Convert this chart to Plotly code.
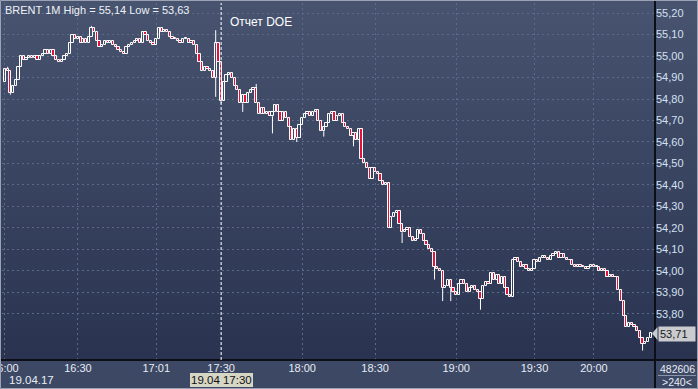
import plotly.graph_objects as go

# ---------------- data ----------------
first_open = 54.88
closes = [
    54.94, 54.93, 54.83, 54.86, 54.89, 54.95, 55.00, 54.98, 54.99, 55.00,
    54.99, 55.00, 54.98, 55.00, 55.01, 55.03, 55.01, 55.03, 55.00, 54.98,
    54.97, 54.98, 55.00, 55.01, 55.06, 55.10, 55.08, 55.09, 55.06, 55.08,
    55.06, 55.09, 55.13, 55.11, 55.07, 55.04, 55.05, 55.07, 55.06, 55.07,
    55.05, 55.04, 55.03, 55.02, 55.01, 55.04, 55.05, 55.06, 55.07, 55.08,
    55.06, 55.11, 55.10, 55.07, 55.06, 55.05, 55.08, 55.13, 55.11, 55.12,
    55.11, 55.09, 55.08, 55.08, 55.07, 55.06, 55.08, 55.08, 55.06, 55.07,
    55.05, 55.01, 54.97, 54.93, 54.95, 54.94, 54.93, 54.90, 55.06, 54.97,
    54.79, 54.88, 54.91, 54.92, 54.90, 54.86, 54.84, 54.78, 54.82, 54.78,
    54.83, 54.84, 54.85, 54.78, 54.73, 54.76, 54.73, 54.74, 54.72, 54.74,
    54.77, 54.74, 54.70, 54.74, 54.71, 54.67, 54.61, 54.66, 54.62, 54.68,
    54.71, 54.73, 54.74, 54.72, 54.74, 54.75, 54.70, 54.65, 54.67, 54.69,
    54.73, 54.74, 54.70, 54.72, 54.73, 54.69, 54.67, 54.66, 54.63, 54.64,
    54.61, 54.66, 54.52, 54.50, 54.48, 54.43, 54.48, 54.46, 54.45, 54.42,
    54.40, 54.41, 54.20, 54.25, 54.27, 54.28, 54.22, 54.18, 54.19, 54.20,
    54.16, 54.14, 54.15, 54.19, 54.17, 54.14, 54.12, 54.10, 54.09, 54.02,
    54.01, 54.00, 53.92, 53.93, 53.96, 53.92, 53.90, 53.89, 53.94, 53.96,
    53.94, 53.90, 53.92, 53.93, 53.91, 53.90, 53.87, 53.93, 53.95, 53.94,
    53.99, 53.96, 53.98, 53.94, 53.97, 53.92, 53.89, 53.88, 54.05, 54.06,
    54.04, 54.02, 54.03, 54.01, 54.00, 54.01, 54.05, 54.04, 54.06, 54.07,
    54.06, 54.05, 54.07, 54.08, 54.09, 54.06, 54.08, 54.06, 54.05, 54.05,
    54.03, 54.02, 54.03, 54.02, 54.02, 54.01, 54.02, 54.03, 54.02, 54.02,
    54.00, 54.01, 54.00, 53.97, 53.98, 53.97, 53.97, 53.91, 53.86, 53.79,
    53.74, 53.76, 53.75, 53.74, 53.72, 53.69, 53.66, 53.67, 53.69, 53.71,
]
# extra wick extremes (bar index -> price)
wick_high = {1: 54.95, 32: 55.14, 57: 55.135, 78: 55.12, 93: 54.87}
wick_low = {2: 54.82, 78: 54.81, 80: 54.78, 88: 54.74, 99: 54.64, 108: 54.60,
            118: 54.625, 129: 54.58, 147: 54.13, 159: 53.96, 162: 53.86,
            165: 53.86, 176: 53.82, 236: 53.63}

tick_idx = [0, 27, 56, 80, 110, 137, 167, 196, 218]
tick_lbl = ["16:00", "16:30", "17:01", "17:30", "18:00", "18:30", "19:00", "19:30", "20:00"]
y_ticks = [53.8, 53.9, 54.0, 54.1, 54.2, 54.3, 54.4, 54.5, 54.6, 54.7, 54.8, 54.9, 55.0, 55.1, 55.2]
y_tick_lbl = ["53,80", "53,90", "54,00", "54,10", "54,20", "54,30", "54,40", "54,50",
              "54,60", "54,70", "54,80", "54,90", "55,00", "55,10", "55,20"]
last_price = "53,71"
title_text = "BRENT 1M High = 55,14 Low = 53,63"
event_text = "Отчет DOE"
event_idx = 80
date_text = "19.04.17"
cursor_text = "19.04 17:30"
volume_text = "482606"
bars_text = ">240<"

# ---------------- build OHLC ----------------
n = len(closes)
idx = list(range(n))
opens = [first_open] + closes[:-1]
highs = [max(o, c) for o, c in zip(opens, closes)]
lows = [min(o, c) for o, c in zip(opens, closes)]
for k, v in wick_high.items():
    highs[k] = max(highs[k], v)
for k, v in wick_low.items():
    lows[k] = min(lows[k], v)

body_lo = [min(o, c) for o, c in zip(opens, closes)]
body_hi = [max(o, c) for o, c in zip(opens, closes)]
body_h = [max(h - l, 0.0015) for h, l in zip(body_hi, body_lo)]
RED = "#e5103c"
body_fill = [RED if c < o else "rgba(0,0,0,0)" for o, c in zip(opens, closes)]

wx, wy = [], []
for i in idx:
    if highs[i] > body_hi[i] + 1e-9:
        wx += [i, i, None]
        wy += [body_hi[i], highs[i], None]
    if lows[i] < body_lo[i] - 1e-9:
        wx += [i, i, None]
        wy += [lows[i], body_lo[i], None]

W, H = 698, 389
L, R, T, B = 2, 43, 3, 29
PW, PH = W - L - R, H - T - B


def px(xp):
    return (xp - L) / PW


def py(yp):
    return (H - B - yp) / PH


FONT = "Liberation Sans Narrow, Arial Narrow, Liberation Sans, Arial, sans-serif"

fig = go.Figure()
fig.add_trace(go.Scatter(x=wx, y=wy, mode="lines", line=dict(color="#ffffff", width=1),
                         hoverinfo="skip", showlegend=False))
fig.add_trace(go.Bar(x=idx, y=body_h, base=body_lo, width=0.82,
                     marker=dict(color=body_fill, line=dict(color="#ffffff", width=1)),
                     hoverinfo="skip", showlegend=False))

shapes = []


def lerp(c1, c2, t):
    a = [int(c1[i:i + 2], 16) for i in (1, 3, 5)]
    b = [int(c2[i:i + 2], 16) for i in (1, 3, 5)]
    return "#%02x%02x%02x" % tuple(round(a[j] + (b[j] - a[j]) * t) for j in range(3))


top_c, bot_c = "#47536f", "#2a3451"
steps = 45
for s in range(steps):
    y0 = s * (H - B) / steps
    y1 = (s + 1) * (H - B) / steps + 0.6
    col = lerp(top_c, bot_c, s / (steps - 1))
    shapes.append(dict(type="rect", xref="paper", yref="paper", layer="below",
                       x0=px(0), x1=px(W), y0=py(y1), y1=py(y0),
                       fillcolor=col, line=dict(width=0)))
shapes.append(dict(type="rect", xref="paper", yref="paper", layer="below",
                   x0=px(0), x1=px(W), y0=py(H), y1=py(H - B),
                   fillcolor="#3d4864", line=dict(width=0)))
shapes.append(dict(type="line", xref="paper", yref="paper", x0=1.0, x1=1.0,
                   y0=py(H), y1=py(0), line=dict(color="#0c0f18", width=2)))
shapes.append(dict(type="line", xref="paper", yref="paper", x0=px(0), x1=px(W),
                   y0=0, y1=0, line=dict(color="#0c0f18", width=2)))
shapes.append(dict(type="line", xref="paper", yref="paper", x0=px(658), x1=px(696),
                   y0=py(375.5), y1=py(375.5), line=dict(color="#8a93a8", width=1)))
shapes.append(dict(type="line", xref="x", yref="paper", x0=event_idx, x1=event_idx,
                   y0=0, y1=1, line=dict(color="#ffffff", width=1, dash="3px,2px")))
shapes.append(dict(type="path", xref="paper", yref="paper",
                   path="M %f %f L %f %f L %f %f Z" % (px(652), py(333.5), px(657.5), py(327), px(657.5), py(340)),
                   fillcolor="#c9cbce", line=dict(color="#c9cbce", width=0)))
shapes.append(dict(type="rect", xref="paper", yref="paper", x0=px(0.5), x1=px(W - 0.5),
                   y0=py(H - 0.5), y1=py(0.5), line=dict(color="#9aa2b3", width=1)))

ann = []
ann.append(dict(text=title_text, xref="paper", yref="paper", x=px(3), y=py(9.5),
                xanchor="left", yanchor="middle", showarrow=False,
                font=dict(family=FONT, size=11, color="#eef2f8")))
ann.append(dict(text=event_text, xref="x", yref="paper", x=event_idx + 2.6, y=py(22),
                xanchor="left", yanchor="middle", showarrow=False,
                font=dict(family=FONT, size=12, color="#ffffff")))
ann.append(dict(text=date_text, xref="paper", yref="paper", x=px(7), y=py(380),
                xanchor="left", yanchor="middle", showarrow=False,
                font=dict(family=FONT, size=11.5, color="#e6ecf5")))
ann.append(dict(text=cursor_text, xref="x", yref="paper", x=event_idx, y=py(380),
                xanchor="center", yanchor="middle", showarrow=False,
                bgcolor="#d6d6c4", borderpad=1, borderwidth=0,
                font=dict(family=FONT, size=11.5, color="#111111")))
ann.append(dict(text=volume_text, xref="paper", yref="paper", x=px(677.5), y=py(369),
                xanchor="center", yanchor="middle", showarrow=False,
                font=dict(family=FONT, size=10.5, color="#e6ecf5")))
ann.append(dict(text=bars_text, xref="paper", yref="paper", x=px(677.5), y=py(382),
                xanchor="center", yanchor="middle", showarrow=False,
                font=dict(family=FONT, size=10.5, color="#e6ecf5")))
ann.append(dict(text=last_price, xref="paper", yref="paper", x=px(657.5), y=py(333.5),
                xanchor="left", yanchor="middle", showarrow=False,
                bgcolor="#c9cbce", borderpad=1, width=34, align="left",
                font=dict(family=FONT, size=11, color="#1a1a1a")))

fig.update_layout(
    width=W, height=H,
    margin=dict(l=L, r=R, t=T, b=B, autoexpand=False),
    paper_bgcolor="#2e3853",
    plot_bgcolor="rgba(0,0,0,0)",
    shapes=shapes, annotations=ann,
    showlegend=False, bargap=0,
    xaxis=dict(
        range=[-1.1, 240.6], automargin=False,
        tickvals=tick_idx, ticktext=tick_lbl, ticks="", showline=False,
        showgrid=True, gridcolor="#5c6988", griddash="2px,3px", gridwidth=1,
        zeroline=False, ticklabeloverflow="allow",
        tickfont=dict(family=FONT, size=11, color="#e6ecf5"),
    ),
    yaxis=dict(
        range=[53.586, 55.2465], side="right", automargin=False,
        tickvals=y_ticks, ticktext=y_tick_lbl, ticks="", showline=False,
        showgrid=True, gridcolor="#5c6988", griddash="2px,3px", gridwidth=1,
        zeroline=False,
        tickfont=dict(family=FONT, size=11, color="#d5e0f2"),
    ),
)

fig.write_html("out.html")
